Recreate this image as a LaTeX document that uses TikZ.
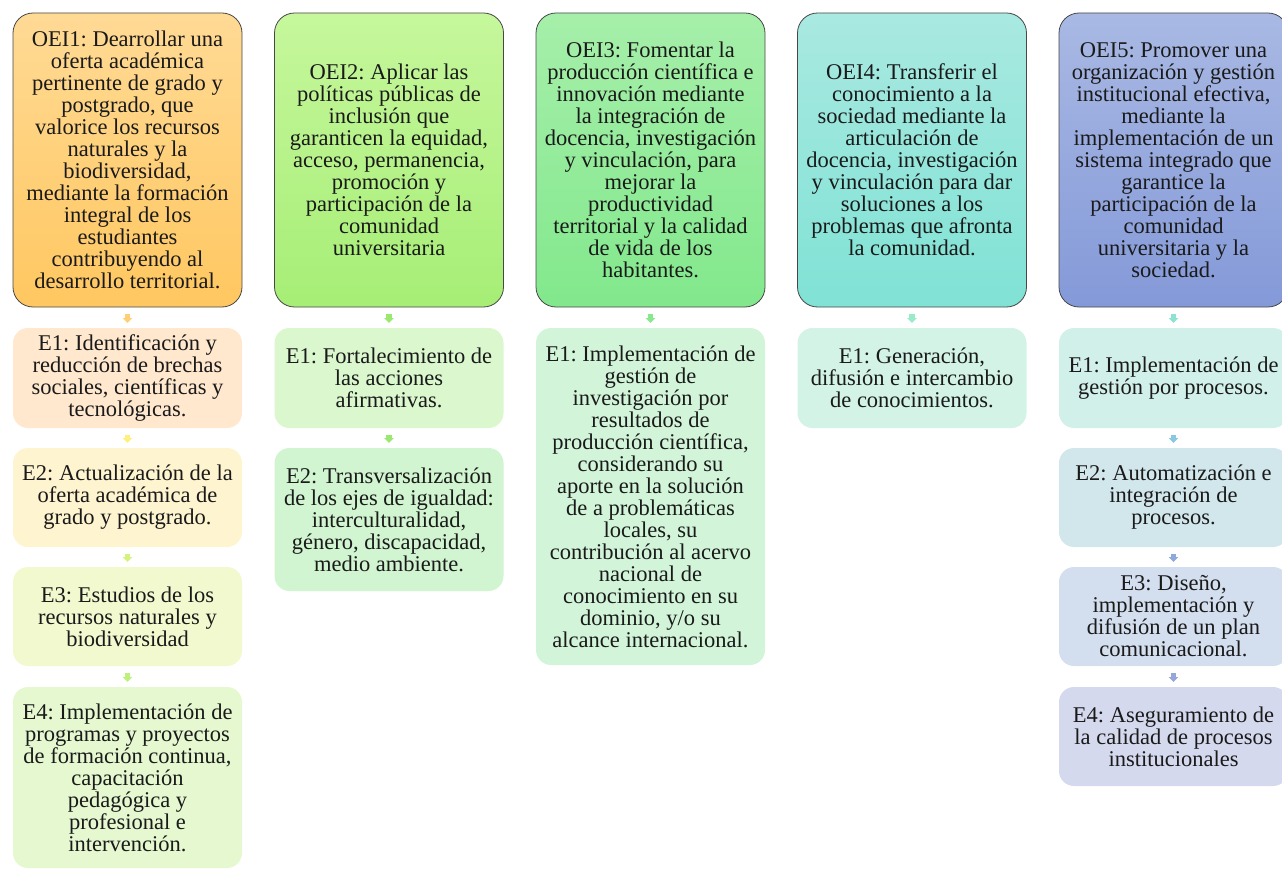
\documentclass[tikz,border=0pt]{standalone}
\usepackage{fontspec}
\setmainfont{Liberation Serif}
\usetikzlibrary{arrows.meta}
\frenchspacing
\newcommand{\boxfont}{\fontsize{22.5}{22}\selectfont\frenchspacing}
\definecolor{txt}{HTML}{1A1A1A}
\definecolor{hA1}{HTML}{FFDA95}\definecolor{hA2}{HTML}{FFC760}
\definecolor{hB1}{HTML}{C6F79C}\definecolor{hB2}{HTML}{A6EE76}
\definecolor{hC1}{HTML}{A6EFAA}\definecolor{hC2}{HTML}{82E88C}
\definecolor{hD1}{HTML}{A9E9E1}\definecolor{hD2}{HTML}{80E2D5}
\definecolor{hE1}{HTML}{A9B9E4}\definecolor{hE2}{HTML}{8499D8}
\definecolor{sA1}{HTML}{FFE8CE}\definecolor{sA2}{HTML}{FFF4D0}
\definecolor{sA3}{HTML}{F3F9CF}\definecolor{sA4}{HTML}{E5F8D0}
\definecolor{sB1}{HTML}{DAF7CE}\definecolor{sB2}{HTML}{D1F5D0}
\definecolor{sC1}{HTML}{D2F5DA}
\definecolor{sD1}{HTML}{D2F3E6}
\definecolor{sE1}{HTML}{D2F0EA}\definecolor{sE2}{HTML}{D2E7EC}
\definecolor{sE3}{HTML}{D3DEEE}\definecolor{sE4}{HTML}{D5D9EE}
\definecolor{aA1}{HTML}{FFCF78}\definecolor{aA2}{HTML}{FFF07E}
\definecolor{aA3}{HTML}{D6F27E}\definecolor{aA4}{HTML}{BEF07E}
\definecolor{aB}{HTML}{9AE872}
\definecolor{aC}{HTML}{88E88E}
\definecolor{aD}{HTML}{98EAC8}
\definecolor{aE1}{HTML}{8EE2D2}\definecolor{aE2}{HTML}{88C8E0}
\definecolor{aE3}{HTML}{8CAADA}\definecolor{aE4}{HTML}{96A6D8}
\tikzset{
  hdr/.style={draw=black!72, line width=0.8pt, rounded corners=20pt,
    minimum width=229pt, minimum height=294pt, inner sep=0pt, outer sep=0pt,
    align=center, font=\boxfont, text=txt},
  sub/.style={rounded corners=15pt, minimum width=229pt, inner sep=0pt,
    outer sep=0pt, align=center, font=\boxfont, text=txt},
  conn/.style={line width=5.5pt, -{Triangle[width=9.5pt,length=5pt]},
    shorten <=7pt, shorten >=5pt}
}
\begin{document}
\begin{tikzpicture}[x=1pt,y=-1pt]
\useasboundingbox (0,0) rectangle (1282,869);
\clip (0,0) rectangle (1282,869);
% column 1
\node[hdr, top color=hA1, bottom color=hA2] (h1) at (127.5,160) {OEI1: Dearrollar una\\oferta académica\\pertinente de grado y\\postgrado, que\\valorice los recursos\\naturales y la\\biodiversidad,\\mediante la formación\\integral de los\\estudiantes\\contribuyendo al\\desarrollo territorial.};
\node[sub, fill=sA1, minimum height=100pt] (a1) at (127.5,378) {E1: Identificación y\\reducción de brechas\\sociales, científicas y\\tecnológicas.};
\node[sub, fill=sA2, minimum height=99pt] (a2) at (127.5,497.5) {E2: Actualización de la\\oferta académica de\\grado y postgrado.};
\node[sub, fill=sA3, minimum height=99pt] (a3) at (127.5,616.5) {E3: Estudios de los\\recursos naturales y\\biodiversidad};
\node[sub, fill=sA4, minimum height=181pt] (a4) at (127.5,777.5) {E4: Implementación de\\programas y proyectos\\de formación continua,\\capacitación\\pedagógica y\\profesional e\\intervención.};
\draw[conn, aA1] (h1) -- (a1);
\draw[conn, aA2] (a1) -- (a2);
\draw[conn, aA3] (a2) -- (a3);
\draw[conn, aA4] (a3) -- (a4);
% column 2
\node[hdr, top color=hB1, bottom color=hB2] (h2) at (389,160) {OEI2: Aplicar las\\políticas públicas de\\inclusión que\\garanticen la equidad,\\acceso, permanencia,\\promoción y\\participación de la\\comunidad\\universitaria};
\node[sub, fill=sB1, minimum height=100pt] (b1) at (389,378) {E1: Fortalecimiento de\\las acciones\\afirmativas.};
\node[sub, fill=sB2, minimum height=143pt] (b2) at (389,519.5) {E2: Transversalización\\de los ejes de igualdad:\\interculturalidad,\\género, discapacidad,\\medio ambiente.};
\draw[conn, aB] (h2) -- (b1);
\draw[conn, aB] (b1) -- (b2);
% column 3
\node[hdr, top color=hC1, bottom color=hC2] (h3) at (650.5,160) {OEI3: Fomentar la\\producción científica e\\innovación mediante\\la integración de\\docencia, investigación\\y vinculación, para\\mejorar la\\productividad\\territorial y la calidad\\de vida de los\\habitantes.};
\node[sub, fill=sC1, minimum height=337pt] (c1) at (650.5,496.5) {E1: Implementación de\\gestión de\\investigación por\\resultados de\\producción científica,\\considerando su\\aporte en la solución\\de a problemáticas\\locales, su\\contribución al acervo\\nacional de\\conocimiento en su\\dominio, y/o su\\alcance internacional.};
\draw[conn, aC] (h3) -- (c1);
% column 4
\node[hdr, top color=hD1, bottom color=hD2] (h4) at (912,160) {OEI4: Transferir el\\conocimiento a la\\sociedad mediante la\\articulación de\\docencia, investigación\\y vinculación para dar\\soluciones a los\\problemas que afronta\\la comunidad.};
\node[sub, fill=sD1, minimum height=100pt] (d1) at (912,378) {E1: Generación,\\difusión e intercambio\\de conocimientos.};
\draw[conn, aD] (h4) -- (d1);
% column 5
\node[hdr, top color=hE1, bottom color=hE2] (h5) at (1173.5,160) {OEI5: Promover una\\organización y gestión\\institucional efectiva,\\mediante la\\implementación de un\\sistema integrado que\\garantice la\\participación de la\\comunidad\\universitaria y la\\sociedad.};
\node[sub, fill=sE1, minimum height=100pt] (e1) at (1173.5,378) {E1: Implementación de\\gestión por procesos.};
\node[sub, fill=sE2, minimum height=99pt] (e2) at (1173.5,497.5) {E2: Automatización e\\integración de\\procesos.};
\node[sub, fill=sE3, minimum height=99pt] (e3) at (1173.5,616.5) {E3: Diseño,\\implementación y\\difusión de un plan\\comunicacional.};
\node[sub, fill=sE4, minimum height=99pt] (e4) at (1173.5,736.5) {E4: Aseguramiento de\\la calidad de procesos\\institucionales};
\draw[conn, aE1] (h5) -- (e1);
\draw[conn, aE2] (e1) -- (e2);
\draw[conn, aE3] (e2) -- (e3);
\draw[conn, aE4] (e3) -- (e4);
\end{tikzpicture}
\end{document}
